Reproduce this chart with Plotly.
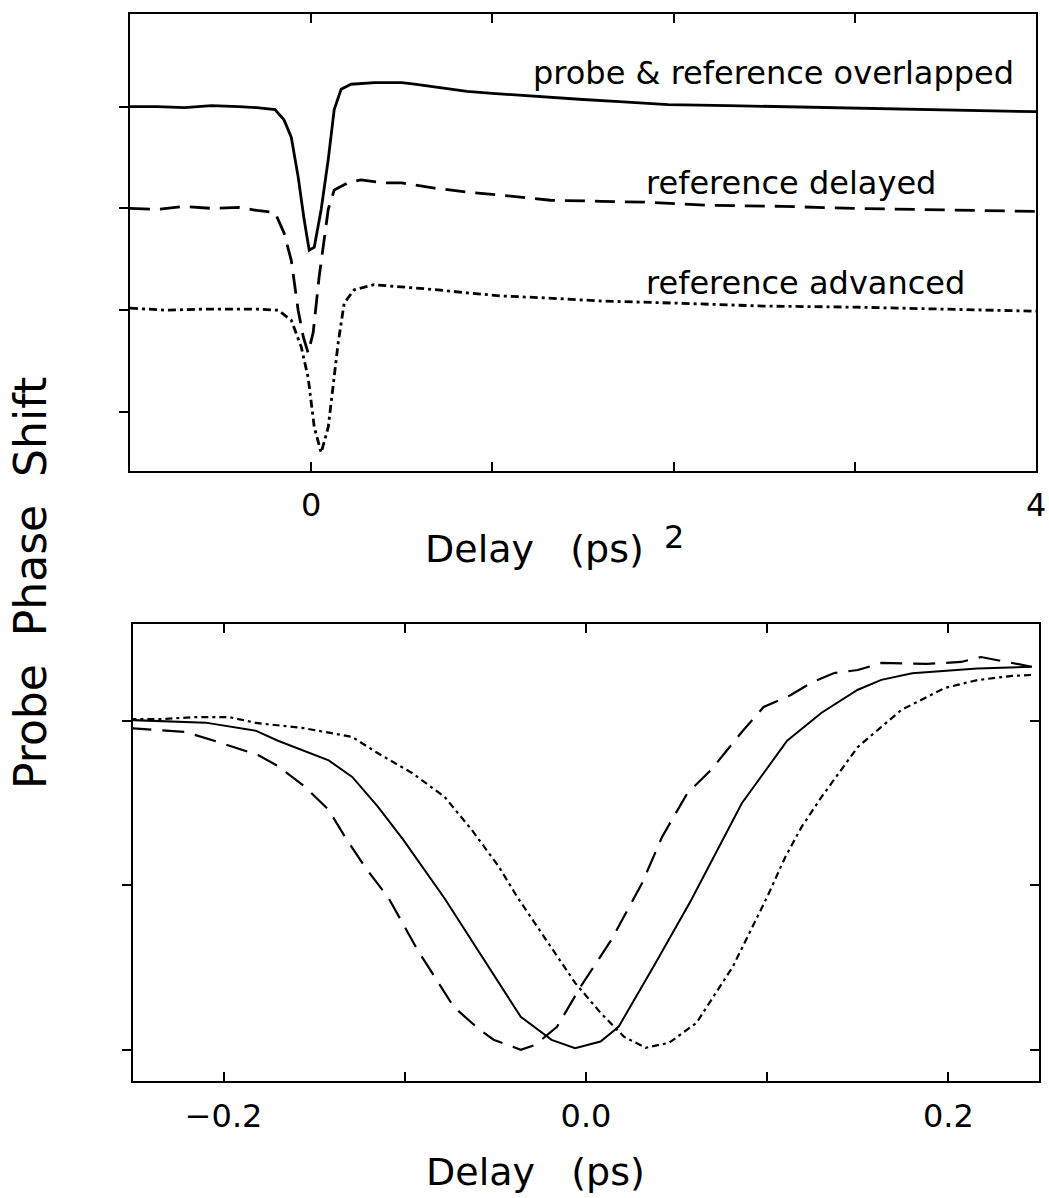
import plotly.graph_objects as go

# ---------------- data: top panel (Delay in ps, arbitrary phase units) -------------
top_overlap_x = [-1.0, -0.85, -0.7, -0.55, -0.4, -0.3, -0.2, -0.15, -0.11, -0.072, -0.039, -0.011,
                 0.017, 0.055, 0.094, 0.127, 0.165, 0.22, 0.35, 0.5, 0.57, 0.7, 0.86, 1.0, 1.15,
                 1.32, 1.5, 1.7, 1.97, 2.3, 2.6, 3.0, 3.34, 3.7, 4.0]
top_overlap_y = [3.0, 3.0, 2.99, 3.01, 3.0, 2.99, 2.97, 2.87, 2.70, 2.31, 1.89, 1.59,
                 1.62, 1.99, 2.48, 2.97, 3.17, 3.22, 3.235, 3.235, 3.22, 3.19, 3.15, 3.13, 3.11,
                 3.09, 3.07, 3.05, 3.02, 3.01, 3.0, 2.98, 2.97, 2.96, 2.95]

top_delayed_x = [-1.0, -0.85, -0.7, -0.55, -0.4, -0.3, -0.2, -0.15, -0.11, -0.072, -0.044, -0.017,
                 0.011, 0.044, 0.094, 0.127, 0.2, 0.275, 0.4, 0.5, 0.68, 0.86, 1.05, 1.32, 1.6,
                 1.87, 2.2, 2.6, 3.0, 3.34, 3.7, 4.0]
top_delayed_y = [2.0, 1.99, 2.02, 2.0, 2.01, 1.98, 1.96, 1.76, 1.49, 1.00, 0.74, 0.58,
                 0.78, 1.33, 1.99, 2.18, 2.25, 2.28, 2.25, 2.25, 2.20, 2.16, 2.13, 2.08, 2.07,
                 2.06, 2.03, 2.02, 2.00, 1.99, 1.98, 1.97]

top_advanced_x = [-1.0, -0.8, -0.6, -0.4, -0.3, -0.182, -0.11, -0.055, -0.017, 0.017, 0.055, 0.094,
                  0.149, 0.182, 0.237, 0.347, 0.5, 0.7, 0.86, 1.05, 1.3, 1.6, 2.0, 2.5, 3.0, 3.5, 4.0]
top_advanced_y = [1.02, 1.0, 1.01, 1.01, 1.01, 1.0, 0.90, 0.64, 0.34, -0.15, -0.40, -0.15,
                  0.68, 1.07, 1.20, 1.25, 1.23, 1.20, 1.17, 1.14, 1.12, 1.09, 1.07, 1.04, 1.03, 1.01, 0.99]

# ---------------- data: bottom panel (zoomed) -------------
bot_overlap_x = [-0.252, -0.210, -0.182, -0.170, -0.142, -0.129, -0.115, -0.101, -0.078, -0.057,
                 -0.036, -0.019, -0.006, 0.008, 0.018, 0.038, 0.058, 0.086, 0.111, 0.130, 0.150,
                 0.163, 0.180, 0.216, 0.246]
bot_overlap_y = [2.006, 1.99, 1.94, 1.88, 1.76, 1.66, 1.48, 1.28, 0.92, 0.56,
                 0.20, 0.06, 0.01, 0.05, 0.14, 0.52, 0.91, 1.50, 1.88, 2.05, 2.19,
                 2.25, 2.29, 2.32, 2.33]

bot_delayed_x = [-0.252, -0.234, -0.221, -0.203, -0.181, -0.170, -0.155, -0.142, -0.133, -0.122,
                 -0.109, -0.093, -0.073, -0.060, -0.051, -0.036, -0.028, -0.016, -0.003, 0.014,
                 0.031, 0.042, 0.056, 0.069, 0.086, 0.098, 0.113, 0.125, 0.137, 0.150, 0.163,
                 0.188, 0.207, 0.218, 0.236, 0.246]
bot_delayed_y = [1.957, 1.945, 1.933, 1.872, 1.793, 1.726, 1.599, 1.459, 1.295, 1.112,
                 0.924, 0.608, 0.261, 0.134, 0.061, 0.0, 0.03, 0.14, 0.383, 0.669,
                 1.015, 1.295, 1.562, 1.702, 1.933, 2.085, 2.158, 2.237, 2.292, 2.310, 2.353,
                 2.347, 2.359, 2.389, 2.353, 2.33]

bot_advanced_x = [-0.252, -0.234, -0.215, -0.197, -0.182, -0.156, -0.129, -0.115, -0.096, -0.078,
                  -0.063, -0.048, -0.038, -0.023, -0.006, 0.008, 0.021, 0.033, 0.046, 0.061,
                  0.081, 0.100, 0.110, 0.119, 0.130, 0.150, 0.174, 0.198, 0.216, 0.235, 0.246]
bot_advanced_y = [2.012, 2.012, 2.024, 2.024, 1.988, 1.957, 1.903, 1.805, 1.684, 1.538,
                  1.337, 1.112, 0.930, 0.687, 0.407, 0.225, 0.079, 0.012, 0.043, 0.164,
                  0.505, 0.930, 1.173, 1.356, 1.538, 1.842, 2.067, 2.201, 2.249, 2.274, 2.280]

curve_labels = ["probe & reference overlapped", "reference delayed", "reference advanced"]
top_tick_labels = ["0", "2", "4"]
top_tick_label_vals = [0, 2, 4]
bot_tick_vals = [-0.2, -0.1, 0.0, 0.1, 0.2]
bot_tick_text = ["−0.2", "", "0.0", "", "0.2"]

FONT = "DejaVu Sans"
W, H = 1049, 1198

solid = dict(color="black", width=2.8, dash="solid")
dashed = dict(color="black", width=2.8, dash="20px,10px")
dashdot = dict(color="black", width=2.8, dash="8px,4px,3px,4px")
solid_b = dict(color="black", width=2.0, dash="solid")
dashed_b = dict(color="black", width=2.2, dash="22px,11px")
dashdot_b = dict(color="black", width=2.2, dash="7px,4px,3px,4px")

fig = go.Figure()
fig.add_trace(go.Scatter(x=top_overlap_x, y=top_overlap_y, mode="lines", line=solid, xaxis="x", yaxis="y", showlegend=False))
fig.add_trace(go.Scatter(x=top_delayed_x, y=top_delayed_y, mode="lines", line=dashed, xaxis="x", yaxis="y", showlegend=False))
fig.add_trace(go.Scatter(x=top_advanced_x, y=top_advanced_y, mode="lines", line=dashdot, xaxis="x", yaxis="y", showlegend=False))
fig.add_trace(go.Scatter(x=bot_overlap_x, y=bot_overlap_y, mode="lines", line=solid_b, xaxis="x2", yaxis="y2", showlegend=False))
fig.add_trace(go.Scatter(x=bot_delayed_x, y=bot_delayed_y, mode="lines", line=dashed_b, xaxis="x2", yaxis="y2", showlegend=False))
fig.add_trace(go.Scatter(x=bot_advanced_x, y=bot_advanced_y, mode="lines", line=dashdot_b, xaxis="x2", yaxis="y2", showlegend=False))

axis_common = dict(showgrid=False, zeroline=False, showline=True, linecolor="black", linewidth=2,
                   tickcolor="black", tickwidth=2, ticklen=9, automargin=False)

fig.update_layout(
    width=W, height=H,
    margin=dict(l=0, r=0, t=0, b=0),
    paper_bgcolor="white", plot_bgcolor="white",
    font=dict(family=FONT, color="black"),
    xaxis=dict(domain=[130 / W, 1036 / W], range=[-1, 4], anchor="y", tickvals=[0, 1, 2, 3],
               ticks="inside", mirror="ticks", showticklabels=False, **axis_common),
    yaxis=dict(domain=[1 - 471 / H, 1 - 14 / H], range=[-0.58, 3.91], anchor="x", tickvals=[0, 1, 2, 3],
               ticks="outside", mirror=True, showticklabels=False, **axis_common),
    xaxis2=dict(domain=[133 / W, 1039 / W], range=[-0.25, 0.25], anchor="y2", tickvals=bot_tick_vals,
                ticktext=bot_tick_text, ticks="inside", mirror="ticks", showticklabels=True,
                tickfont=dict(size=32, family=FONT), ticklabelstandoff=6, **axis_common),
    yaxis2=dict(domain=[1 - 1081 / H, 1 - 624 / H], range=[-0.19, 2.59], anchor="x2", tickvals=[0, 1, 2],
                ticks="outside", mirror=True, showticklabels=False, **axis_common),
    yaxis3=dict(overlaying="y2", side="right", anchor="x2", range=[-0.19, 2.59], tickvals=[0, 1, 2],
                ticks="inside", showticklabels=False, showline=False, showgrid=False, zeroline=False,
                tickcolor="black", tickwidth=2, ticklen=9),
)
# invisible trace to activate the right-hand tick axis of the lower panel
fig.add_trace(go.Scatter(x=[0], y=[0], mode="lines", xaxis="x2", yaxis="y3", showlegend=False,
                         line=dict(width=0), hoverinfo="skip"))

ann = []
# curve labels (top panel)
ann.append(dict(x=3.89, y=3.33, xref="x", yref="y", text=curve_labels[0], xanchor="right", yanchor="middle",
                showarrow=False, font=dict(size=32, family=FONT)))
ann.append(dict(x=1.835, y=2.25, xref="x", yref="y", text=curve_labels[1], xanchor="left", yanchor="middle",
                showarrow=False, font=dict(size=32, family=FONT)))
ann.append(dict(x=1.835, y=1.27, xref="x", yref="y", text=curve_labels[2], xanchor="left", yanchor="middle",
                showarrow=False, font=dict(size=32, family=FONT)))
# top tick labels (the "2" sits lower in the original)
tick_py = [505, 537, 505]
for v, t, py in zip(top_tick_label_vals, top_tick_labels, tick_py):
    ann.append(dict(x=v, y=1 - py / H, xref="x", yref="paper", text=t, showarrow=False,
                    xanchor="center", yanchor="middle", font=dict(size=32, family=FONT)))
# axis titles
ann.append(dict(x=534 / W, y=1 - 549 / H, xref="paper", yref="paper", text="Delay   (ps)", showarrow=False,
                xanchor="center", yanchor="middle", font=dict(size=38, family=FONT)))
ann.append(dict(x=535 / W, y=1 - 1172 / H, xref="paper", yref="paper", text="Delay   (ps)", showarrow=False,
                xanchor="center", yanchor="middle", font=dict(size=38, family=FONT)))
ann.append(dict(x=30 / W, y=1 - 583 / H, xref="paper", yref="paper", text="Probe  Phase  Shift", showarrow=False,
                textangle=-90, xanchor="center", yanchor="middle", font=dict(size=44, family=FONT)))
fig.update_layout(annotations=ann)

fig.write_html("out.html")
